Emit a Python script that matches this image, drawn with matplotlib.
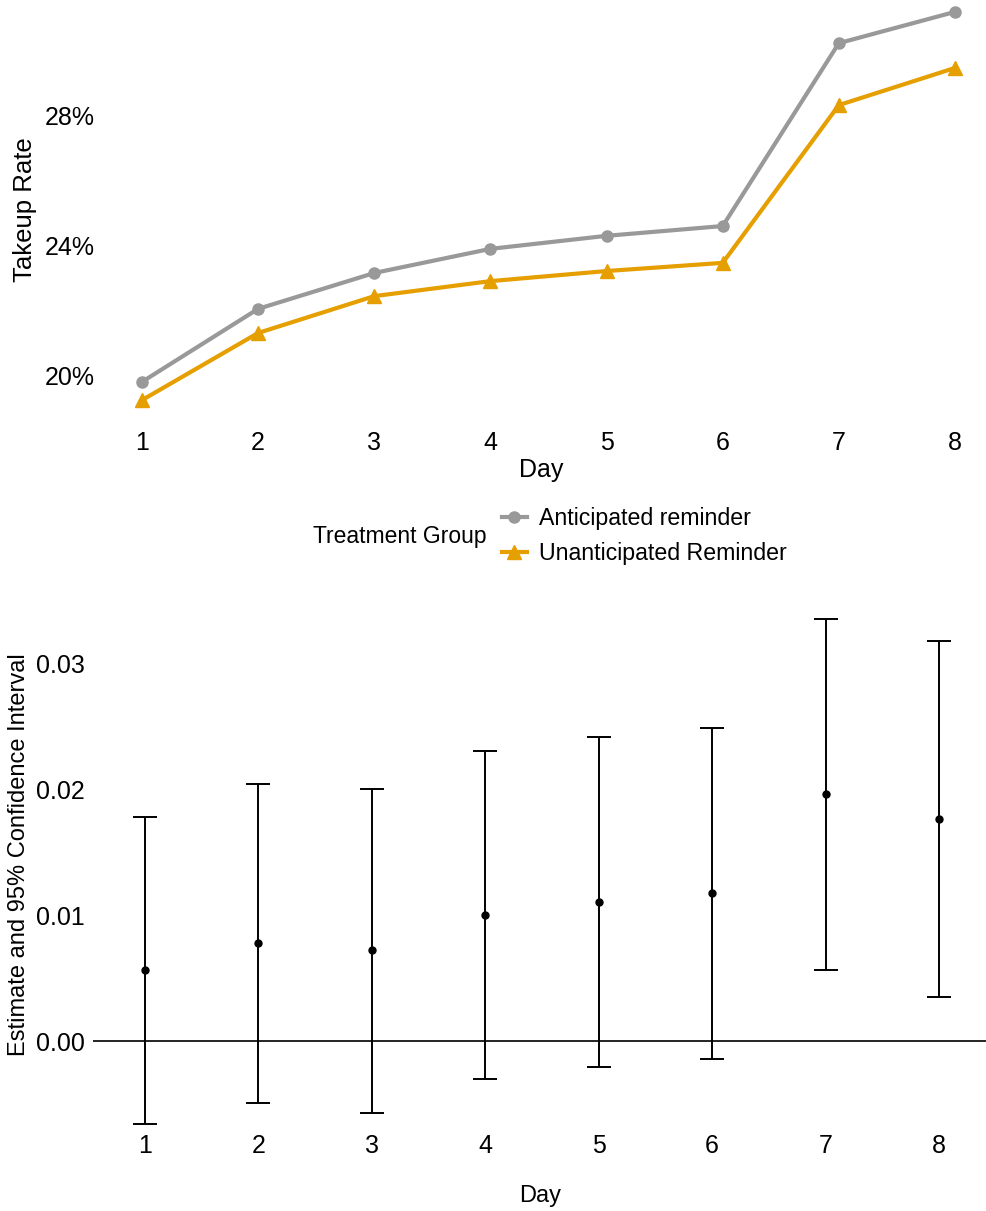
import matplotlib
matplotlib.use("Agg")
import matplotlib.pyplot as plt
from matplotlib.lines import Line2D
from matplotlib.ticker import FuncFormatter

plt.rcParams['font.family'] = ['Liberation Sans', 'DejaVu Sans']

days = [1, 2, 3, 4, 5, 6, 7, 8]

# takeup rate (%) by day for each treatment group
anticipated = [19.82, 22.06, 23.16, 23.90, 24.30, 24.60, 30.21, 31.17]
unanticipated = [19.26, 21.32, 22.45, 22.91, 23.22, 23.47, 28.31, 29.45]

# difference estimates with 95% CI bounds
estimate = [0.00565, 0.00780, 0.00724, 0.01002, 0.01106, 0.01177, 0.01965, 0.01766]
ci_low = [-0.00660, -0.00493, -0.00573, -0.00302, -0.00207, -0.00143, 0.00565, 0.00350]
ci_high = [0.01782, 0.02045, 0.02005, 0.02307, 0.02418, 0.02490, 0.03357, 0.03182]

W, H = 987, 1211
fig = plt.figure(figsize=(W / 100, H / 100), dpi=100)


def px_axes(left, top, right, bottom):
    return fig.add_axes([left / W, 1 - bottom / H, (right - left) / W, (bottom - top) / H])


def clean(ax):
    for s in ax.spines.values():
        s.set_visible(False)
    ax.tick_params(length=0, labelsize=18)


# top panel: takeup rate over days
ax1 = px_axes(95, 0, 987, 420)
clean(ax1)
ax1.plot(days, anticipated, color='#999999', lw=3, marker='o', ms=8, label='Anticipated reminder')
ax1.plot(days, unanticipated, color='#E69F00', lw=3, marker='^', ms=10, label='Unanticipated Reminder')
ax1.set_xlim(1 - 47 / 116.1, 8 + 32 / 116.1)
ax1.set_ylim(18.650, 31.534)
ax1.set_xticks(days)
ax1.set_yticks([20, 24, 28])
ax1.yaxis.set_major_formatter(FuncFormatter(lambda v, p: f"{v:.0f}%"))
ax1.tick_params(axis='y', pad=0)
ax1.tick_params(axis='x', pad=8)
ax1.set_xlabel('Day', fontsize=18, labelpad=2)
ax1.set_ylabel('Takeup Rate', fontsize=18.5, labelpad=6)

# legend with its title placed to the left
fig.text(313 / W, 1 - 536 / H, 'Treatment Group', fontsize=16.5, va='center', ha='left')
handles = [
    Line2D([], [], color='#999999', lw=3, marker='o', ms=8),
    Line2D([], [], color='#E69F00', lw=3, marker='^', ms=10),
]
fig.legend(handles, ['Anticipated reminder', 'Unanticipated Reminder'],
           loc='center left', bbox_to_anchor=(490 / W, 1 - 536 / H),
           frameon=False, fontsize=16.7, handlelength=1.1, handletextpad=0.5,
           labelspacing=0.5, borderpad=0)

# bottom panel: estimates with confidence intervals
ax2 = px_axes(93, 600, 987, 1128)
clean(ax2)
err_lo = [e - l for e, l in zip(estimate, ci_low)]
err_hi = [h - e for e, h in zip(estimate, ci_high)]
ax2.axhline(0, color='black', lw=1.2)
ax2.errorbar(days, estimate, yerr=[err_lo, err_hi], fmt='o', color='black',
             ms=5, elinewidth=1.4, capsize=8.3, capthick=1.4)
ax2.set_xlim(1 - 52 / 113.4, 8 + 48 / 113.4)
ax2.set_ylim(-0.006921, 0.035084)
ax2.set_xticks(days)
ax2.set_yticks([0.00, 0.01, 0.02, 0.03])
ax2.yaxis.set_major_formatter(FuncFormatter(lambda v, p: f"{v:.2f}"))
ax2.tick_params(axis='y', pad=6)
ax2.tick_params(axis='x', pad=4)
ax2.set_xlabel('Day', fontsize=17, labelpad=20)
fig.text(19 / W, 1 - 855 / H, 'Estimate and 95% Confidence Interval',
         fontsize=17, rotation=90, ha='center', va='center')

fig.savefig('out.png', dpi=100)
